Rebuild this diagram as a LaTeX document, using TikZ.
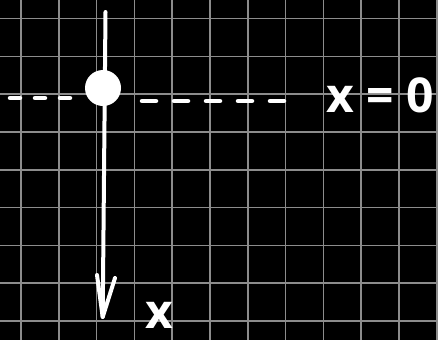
\documentclass[tikz,border=0pt]{standalone}
\usepackage{fontspec}
\setmainfont{Open Sans}
\definecolor{gridgrey}{gray}{0.55}
\begin{document}
\begin{tikzpicture}[x=1pt,y=-1pt,
  chalk/.style={white,line width=4pt,line cap=round,line join=round},
  gridline/.style={draw=gridgrey,line width=1.6pt},
  lbl/.style={text=white,font=\fontsize{48}{48}\selectfont\bfseries,inner sep=0pt}]
\fill[black] (0,0) rectangle (438,340);
\useasboundingbox (0,0) rectangle (438,340);
\foreach \i in {0,...,11} \draw[gridline] ({21+37.8*\i},0) -- ({21+37.8*\i},340);
\foreach \j in {0,...,8} \draw[gridline] (0,{18.5+37.8*\j}) -- (438,{18.5+37.8*\j});
% coordinates
\coordinate (top) at (105.5,12);
\coordinate (tip) at (102.7,317);
\coordinate (hl) at (97,275);
\coordinate (hr) at (115,278);
\coordinate (dl1) at (10,98);
\coordinate (dl2) at (72,98);
\coordinate (dr1) at (142,101);
\coordinate (dr2) at (286,101);
% dashed line
\draw[chalk,line width=4.5pt,dash pattern=on 10pt off 15pt] (dl1) -- (dl2);
\draw[chalk,line width=4.5pt,dash pattern=on 14pt off 18pt] (dr1) -- (dr2);
% axis
\draw[chalk] (top) -- (tip);
\draw[chalk] (hl) -- (tip) -- (hr);
% ball
\node[circle,fill=white,minimum size=36pt,inner sep=0pt] (ball) at (103,88) {};
% labels
\node[lbl,anchor=base] (eq) at (380,112) {x = 0};
\node[lbl,anchor=base] (xl) at (159,328) {x};
\end{tikzpicture}
\end{document}
